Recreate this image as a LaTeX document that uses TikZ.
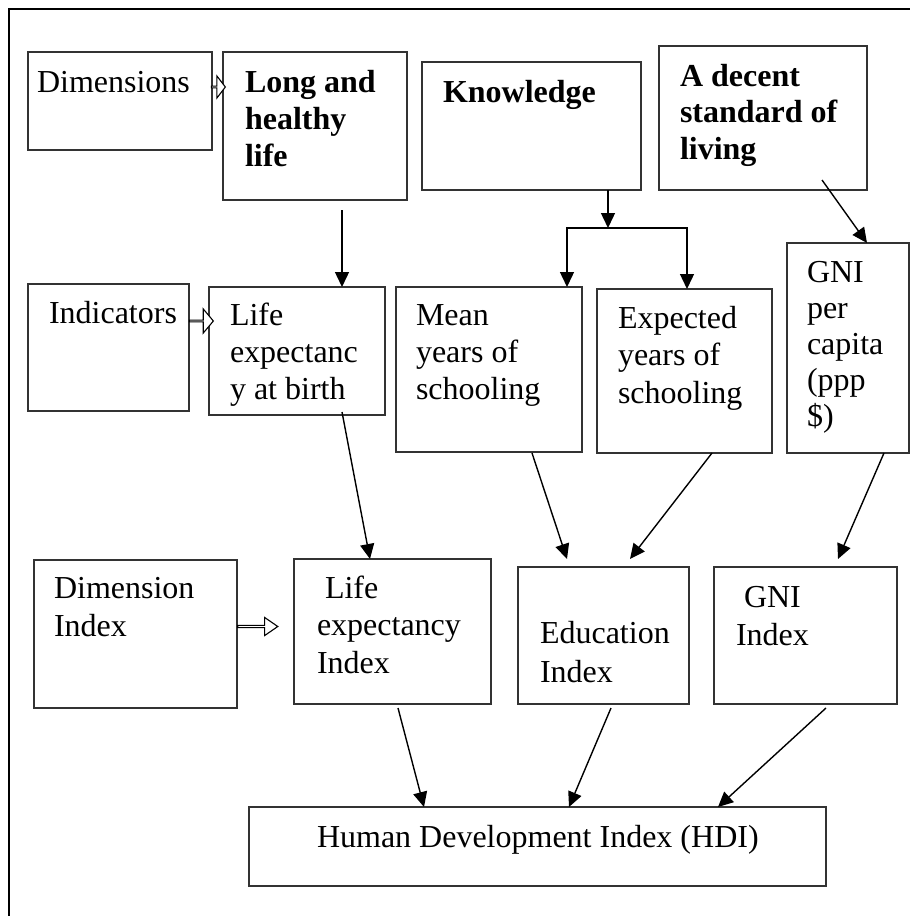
\documentclass[tikz,border=0pt]{standalone}
\usepackage{fontspec}
\setmainfont{Liberation Serif}
\usetikzlibrary{arrows.meta,calc,shapes.arrows}

\tikzset{
  box/.style={draw=black!80, line width=1.2pt, rectangle, inner sep=0pt, outer sep=0pt},
  % multi-line texts are anchored at the baseline of their last line
  txt/.style={anchor=base west, inner sep=0pt, outer sep=0pt, align=left,
              font=\fontsize{32}{37}\selectfont},
  btxt/.style={txt, font=\fontsize{32}{37}\selectfont\bfseries},
  arr/.style={draw=black, line width=1.4pt, -{Triangle[length=15pt,width=14pt]}},
  hollow/.style={single arrow, draw=black, fill=white, line width=1.1pt,
                 inner sep=0pt, outer sep=0pt, single arrow head indent=0pt},
  frame/.style={line width=2pt, draw=black}
}

\begin{document}
\begin{tikzpicture}[x=1pt, y=-1pt]
  \useasboundingbox (0,0) rectangle (910,916);

  % outer frame (top and left rules)
  \draw[frame] (912,9) -- (9,9) -- (9,918);

  % ---- row 1: dimensions ----
  \node[box, minimum width=184pt, minimum height=98pt]  (dimb)    at (120,101)   {};
  \node[box, minimum width=184pt, minimum height=148pt] (longb)   at (315,126)   {};
  \node[box, minimum width=219pt, minimum height=128pt] (knowb)   at (531.5,126) {};
  \node[box, minimum width=208pt, minimum height=144pt] (decentb) at (763,118)   {};

  % ---- row 2: indicators ----
  \node[box, minimum width=161pt, minimum height=127pt] (indb)  at (108.5,347.5) {};
  \node[box, minimum width=176pt, minimum height=128pt] (lifeb) at (297,351)     {};
  \node[box, minimum width=186pt, minimum height=165pt] (meanb) at (489,369.5)   {};
  \node[box, minimum width=175pt, minimum height=164pt] (expb)  at (684.5,371)   {};
  \node[box, minimum width=122pt, minimum height=210pt] (gnib)  at (848,348)     {};

  % ---- row 3: dimension indices ----
  \node[box, minimum width=203pt, minimum height=148pt] (dimib) at (135.5,634)   {};
  \node[box, minimum width=197pt, minimum height=145pt] (leib)  at (392.5,631.5) {};
  \node[box, minimum width=171pt, minimum height=137pt] (edub)  at (603.5,635.5) {};
  \node[box, minimum width=183pt, minimum height=137pt] (gniib) at (805.5,635.5) {};

  % ---- row 4: HDI ----
  \node[box, minimum width=577pt, minimum height=79pt] (hdib) at (537.5,846.5) {};

  % ---- texts ----
  \node[txt]  (t-dim)  at (37,92)  {Dimensions};
  \node[btxt] (t-long) at (245,166) {Long and\\healthy\\life};
  \node[btxt] (t-know) at (443,102) {Knowledge};
  \node[btxt, font=\fontsize{32}{36.5}\selectfont\bfseries] (t-dec) at (680,159)
       {A decent\\standard of\\living};

  \node[txt] (t-ind)  at (49,323)  {Indicators};
  \node[txt] (t-life) at (230,399) {Life\\expectanc\\y at birth};
  \node[txt] (t-mean) at (416,399) {Mean\\years of\\schooling};
  \node[txt, font=\fontsize{32}{37.5}\selectfont] (t-exp) at (618,403)
       {Expected\\years of\\schooling};
  \node[txt, font=\fontsize{32}{36}\selectfont] (t-gni) at (807,426)
       {GNI\\per\\capita\\(ppp\\\$)};

  \node[txt, font=\fontsize{32}{38}\selectfont] (t-dimi) at (54,636) {Dimension\\Index};
  \node[txt, font=\fontsize{32}{37.5}\selectfont] (t-lei) at (317,673)
       {\hspace*{8pt}Life\\expectancy\\Index};
  \node[txt, font=\fontsize{32}{39}\selectfont] (t-edu) at (540,682) {Education\\Index};
  \node[txt, font=\fontsize{32}{38}\selectfont] (t-gnii) at (736,645)
       {\hspace*{8pt}GNI\\Index};

  \node[txt] (t-hdi) at (317,847) {Human Development Index (HDI)};

  % ---- hollow block arrows from the row labels ----
  \node[hollow, minimum height=14pt, minimum width=22pt,
        single arrow head extend=6pt,
        single arrow tip angle=105] (ha1) at (218,87) {};
  \node[hollow, minimum height=24pt, minimum width=24pt,
        single arrow head extend=7pt,
        single arrow tip angle=100] (ha2) at (201,321) {};
  \node[hollow, minimum height=40pt, minimum width=18pt,
        single arrow head extend=4pt,
        single arrow tip angle=69] (ha3) at (257,626.5) {};

  % ---- connectors ----
  \draw[arr] ($(longb.south)+(27,10)$) -- ($(lifeb.north)+(45,0)$);

  \coordinate (split) at ($(knowb.south)+(76.5,38)$);
  \draw[arr] ($(knowb.south)+(76.5,0)$) -- (split);
  \draw[arr] (split) -| ($(meanb.north)+(78,0)$);
  \draw[arr] (split) -| ($(expb.north)+(2.5,0)$);

  \draw[arr] ($(decentb.center)+(59,62)$) -- ($(gnib.north)+(19,0)$);

  \draw[arr] ($(lifeb.south)+(45,-3)$) -- ($(leib.north)+(-22.5,0)$);
  \draw[arr] ($(meanb.south)+(43,1)$) -- ($(edub.north)+(-36.5,-8)$);
  \draw[arr] ($(expb.south)+(27.5,0)$) -- ($(edub.north)+(26.5,-8)$);
  \draw[arr] ($(gnib.south)+(36,0)$) -- ($(gniib.north)+(32.5,-8)$);

  \draw[arr] ($(leib.south)+(5.5,4)$) -- ($(hdib.north)+(-113.5,0)$);
  \draw[arr] ($(edub.south)+(7.5,4)$) -- ($(hdib.north)+(31.5,0)$);
  \draw[arr] ($(gniib.south)+(20.5,4)$) -- ($(hdib.north)+(180.5,0)$);
\end{tikzpicture}
\end{document}
